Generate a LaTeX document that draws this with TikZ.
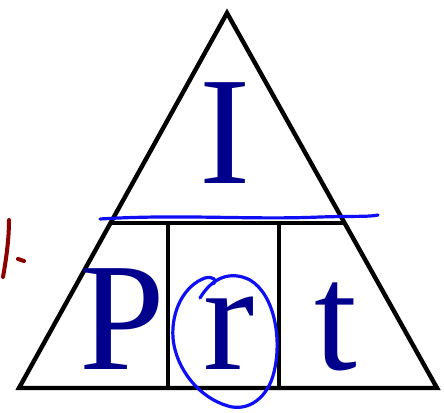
\documentclass[tikz,border=0pt]{standalone}
\usepackage{fontspec}
\setmainfont{Liberation Serif}
\definecolor{letter}{RGB}{0,0,140}
\definecolor{pen}{RGB}{15,15,245}
\definecolor{redpen}{RGB}{140,0,0}
\tikzset{
  frame/.style={line width=4.4pt, black, line join=miter},
  letterbox/.style={text=letter, font=\fontsize{154}{154}\selectfont, inner sep=0pt, anchor=base},
  bluepen/.style={pen, line width=3.2pt, line cap=round, line join=round},
  redstroke/.style={redpen, line width=4pt, line cap=round}
}
\begin{document}
\begin{tikzpicture}[x=1pt,y=-1pt]
\useasboundingbox (0,0) rectangle (444,412);
\coordinate (A) at (227,13);
\coordinate (BL) at (19,388);
\coordinate (BR) at (437,388);
\coordinate (ML) at (110.5,223);
\coordinate (MR) at (344.6,223);
\coordinate (V1t) at (168,223);
\coordinate (V1b) at (168,388);
\coordinate (V2t) at (279,223);
\coordinate (V2b) at (279,388);
\draw[frame] (A) -- (BL) -- (BR) -- cycle;
\draw[frame] (ML) -- (MR);
\draw[frame] (V1t) -- (V1b);
\draw[frame] (V2t) -- (V2b);
\node[letterbox] (I) at (225,183) {I};
\node[letterbox] (P) at (122,369) {P};
\node[letterbox] (R) at (229,369) {r};
\node[letterbox] (T) at (336,369) {t};
% blue underline
\draw[bluepen] (100,219) .. controls (180,214) and (250,220) .. (320,217) .. controls (350,216) and (370,217) .. (378,215);
% blue circle around r
\draw[bluepen] (200,298) .. controls (212,278) and (230,270) .. (250,280)
  .. controls (275,295) and (282,340) .. (274,372)
  .. controls (268,398) and (248,412) .. (228,406)
  .. controls (200,398) and (176,370) .. (173,338)
  .. controls (171,310) and (185,285) .. (205,278)
  .. controls (213,276) and (218,280) .. (213,284);
% red marks
\draw[redstroke] (9,220) .. controls (9,240) and (6,260) .. (3,277);
\draw[redstroke] (18,259) -- (24,261);
\end{tikzpicture}
\end{document}
